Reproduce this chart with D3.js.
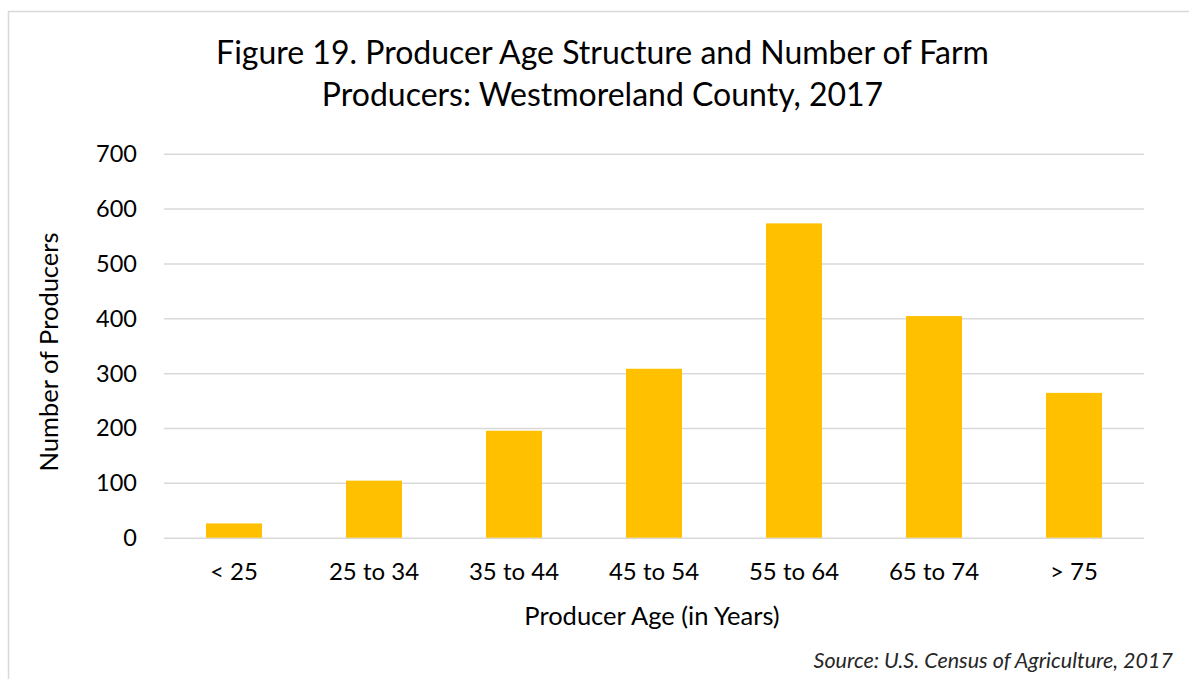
<!DOCTYPE html>
<html>
<head>
<meta charset="utf-8">
<script src="https://cdn.jsdelivr.net/npm/d3@7"></script>
<style>
  html, body { margin: 0; padding: 0; background: #fff; }
  svg { display: block; }
  text { font-family: Lato, "Open Sans", sans-serif; fill: #000; }
</style>
</head>
<body>
<svg id="chart" width="1189" height="679"></svg>
<script>
const categories = ["< 25", "25 to 34", "35 to 44", "45 to 54", "55 to 64", "65 to 74", "> 75"];
const producers = [26, 104, 195, 308, 573, 404, 264];
const yTicks = [0, 100, 200, 300, 400, 500, 600, 700];
const titleLines = ["Figure 19. Producer Age Structure and Number of Farm", "Producers: Westmoreland County, 2017"];
const xTitle = "Producer Age (in Years)";
const yTitle = "Number of Producers";
const sourceText = "Source: U.S. Census of Agriculture, 2017";

const svg = d3.select("#chart");
const W = 1189, H = 679;
const plot = { left: 164, right: 1144, top: 153.7, bottom: 537.7 };

// outer border
svg.append("rect")
  .attr("x", 8.5).attr("y", 11.5)
  .attr("width", W + 10).attr("height", H + 10)
  .attr("fill", "#fff").attr("stroke", "#d9d9d9").attr("stroke-width", 1.5);

const x = d3.scaleBand().domain(categories)
  .range([plot.left, plot.right]).paddingInner(0.6).paddingOuter(0.3);
const y = d3.scaleLinear().domain([0, 700]).range([plot.bottom, plot.top]);

// gridlines
const yAxis = d3.axisLeft(y).tickValues(yTicks).tickSize(-(plot.right - plot.left)).tickPadding(27);
const gy = svg.append("g").attr("transform", `translate(${plot.left},0)`).call(yAxis);
gy.select(".domain").remove();
gy.selectAll(".tick line").attr("stroke", "#d9d9d9").attr("stroke-width", 1.5);
gy.selectAll(".tick text").attr("font-size", 23.5).attr("font-family", "Lato, sans-serif").attr("fill", "#000").attr("dy", "0.34em");

// bars
svg.append("g").selectAll("rect").data(categories).join("rect")
  .attr("x", d => x(d))
  .attr("width", x.bandwidth())
  .attr("y", (d, i) => y(producers[i]))
  .attr("height", (d, i) => y(0) - y(producers[i]))
  .attr("fill", "#FFC000");

// x axis labels
const xAxis = d3.axisBottom(x).tickSize(0).tickPadding(25);
const gx = svg.append("g").attr("transform", `translate(0,${plot.bottom})`).call(xAxis);
gx.select(".domain").remove();
gx.selectAll(".tick text").attr("font-size", 24).attr("font-family", "Lato, sans-serif").attr("fill", "#000");

// title
svg.append("g").selectAll("text").data(titleLines).join("text")
  .attr("x", 602.5).attr("y", (d, i) => 64 + i * 42)
  .attr("text-anchor", "middle").attr("font-size", 32)
  .text(d => d);

// axis titles
svg.append("text").attr("x", 652).attr("y", 625)
  .attr("text-anchor", "middle").attr("font-size", 25.5).text(xTitle);
svg.append("text").attr("transform", "translate(58,352) rotate(-90)")
  .attr("text-anchor", "middle").attr("font-size", 25.5).text(yTitle);

// source
svg.append("text").attr("x", 1173).attr("y", 668)
  .attr("text-anchor", "end").attr("font-size", 21.5).attr("font-style", "italic")
  .style("fill", "#262626").text(sourceText);
</script>
</body>
</html>
